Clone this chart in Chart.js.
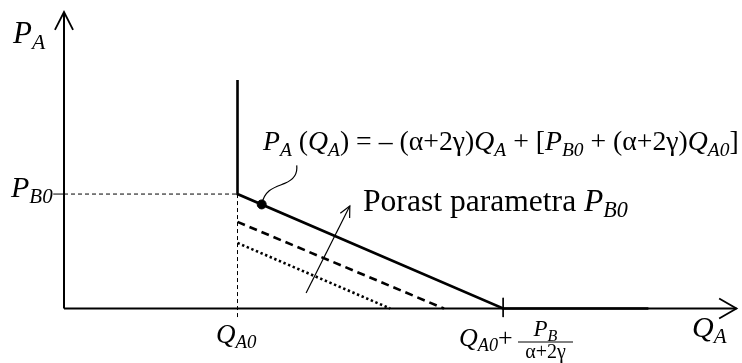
<!DOCTYPE html>
<html lang="sr">
<head>
    <meta charset="UTF-8">
    <title>Porast parametra PB0</title>
    <script src="https://cdn.jsdelivr.net/npm/chart.js"></script>
    <style>
        body {
            margin: 0;
            background: white;
        }
        canvas {
            display: block;
        }
    </style>
</head>
<body>
    <canvas id="chart" width="742" height="363"></canvas>

    <script>
        // Vrednosti (apstraktne jedinice, osa od 0 do 10)
        const xRange = [0, 10];
        const yRange = [0, 10];
        const qA0 = 2.58;
        const pB0 = 3.86;

        const axisXx = [0, 10];
        const axisXy = [0, 0];
        const axisYx = [0, 0];
        const axisYy = [0, 10];

        const demandX = [qA0, qA0, 6.53, 8.69];
        const demandY = [7.71, pB0, 0, 0];
        const dashedX = [qA0, 5.65];
        const dashedY = [2.92, 0];
        const dottedX = [qA0, 4.85];
        const dottedY = [2.21, 0];

        const guideHX = [0, qA0];
        const guideHY = [pB0, pB0];
        const guideVX = [qA0, qA0];
        const guideVY = [pB0, -0.29];
        const tickPX = [-0.16, 0];
        const tickPY = [pB0, pB0];
        const tickQX = [6.53, 6.53];
        const tickQY = [0.36, -0.29];

        const pointX = [2.94];
        const pointY = [3.51];
        const shiftX = [3.60, 4.25];
        const shiftY = [0.52, 3.46];

        const pts = (xs, ys) => xs.map((x, i) => ({ x: x, y: ys[i] }));

        function line(xs, ys, width, dash) {
            return {
                data: pts(xs, ys),
                showLine: true,
                borderColor: '#000',
                borderWidth: width,
                borderDash: dash || [],
                pointRadius: 0,
                clip: false,
            };
        }

        const SERIF = '"Liberation Serif", "DejaVu Serif", serif';

        // Tekst sa indeksima: [tekst, italik, indeks]
        function richWidth(ctx, parts, size) {
            let w = 0;
            parts.forEach(p => {
                const s = p[2] ? size * 0.7 : size;
                ctx.font = (p[1] ? 'italic ' : '') + s + 'px ' + SERIF;
                w += ctx.measureText(p[0]).width;
            });
            return w;
        }

        function drawRich(ctx, x, y, parts, size) {
            parts.forEach(p => {
                const s = p[2] ? size * 0.7 : size;
                ctx.font = (p[1] ? 'italic ' : '') + s + 'px ' + SERIF;
                ctx.fillText(p[0], x, p[2] ? y + size * 0.2 : y);
                x += ctx.measureText(p[0]).width;
            });
            return x;
        }

        function fitRich(ctx, x, y, parts, width) {
            const size = 20 * width / richWidth(ctx, parts, 20);
            drawRich(ctx, x, y, parts, size);
        }

        function arrowHead(ctx, x0, y0, x1, y1, len, spread) {
            const a = Math.atan2(y1 - y0, x1 - x0);
            ctx.beginPath();
            ctx.moveTo(x1 - len * Math.cos(a - spread), y1 - len * Math.sin(a - spread));
            ctx.lineTo(x1, y1);
            ctx.lineTo(x1 - len * Math.cos(a + spread), y1 - len * Math.sin(a + spread));
            ctx.stroke();
        }

        const labelsPlugin = {
            id: 'labels',
            afterDraw(chart) {
                const { ctx, scales: { x, y } } = chart;
                const px = v => x.getPixelForValue(v);
                const py = v => y.getPixelForValue(v);
                ctx.save();
                ctx.strokeStyle = '#000';
                ctx.fillStyle = '#000';
                ctx.lineCap = 'butt';

                // strelice na osama
                ctx.lineWidth = 1.8;
                arrowHead(ctx, px(0), py(0), px(0), py(yRange[1]), 20, 0.47);
                arrowHead(ctx, px(0), py(0), px(xRange[1]), py(0), 20, 0.52);

                // strelica porasta
                ctx.lineWidth = 1.2;
                arrowHead(ctx, px(shiftX[0]), py(shiftY[0]), px(shiftX[1]), py(shiftY[1]), 12, 0.45);

                // vijugava veza od formule do tacke
                const dx = px(pointX[0]), dy = py(pointY[0]);
                ctx.lineWidth = 1.2;
                ctx.beginPath();
                ctx.moveTo(dx, dy);
                ctx.bezierCurveTo(dx + 3, dy - 15, dx + 13, dy - 17, dx + 23, dy - 21);
                ctx.bezierCurveTo(dx + 33, dy - 25, dx + 36, dy - 31, dx + 35, dy - 39);
                ctx.stroke();

                ctx.textBaseline = 'alphabetic';
                // oznake osa
                drawRich(ctx, 13, 43, [['P', true], ['A', true, true]], 31);
                drawRich(ctx, 11, 197, [['P', true], ['B0', true, true]], 30);
                drawRich(ctx, 216, 343, [['Q', true], ['A0', true, true]], 27);
                drawRich(ctx, 692, 337, [['Q', true], ['A', true, true]], 30);

                // Q_A0 + P_B / (α+2γ)
                drawRich(ctx, 459, 346, [['Q', true], ['A0', true, true], ['+', false]], 26);
                const fl = 518, fr = 573, fy = 342;
                ctx.lineWidth = 1;
                ctx.beginPath();
                ctx.moveTo(fl, fy);
                ctx.lineTo(fr, fy);
                ctx.stroke();
                const num = [['P', true], ['B', true, true]];
                const nw = richWidth(ctx, num, 23);
                drawRich(ctx, (fl + fr - nw) / 2, 336, num, 23);
                const den = [['α+2γ', false]];
                const dw = richWidth(ctx, den, 20);
                drawRich(ctx, (fl + fr - dw) / 2, 358, den, 20);

                // formula
                fitRich(ctx, 263, 150, [
                    ['P', true], ['A', true, true], [' (', false], ['Q', true], ['A', true, true],
                    [') = \u2013 (α+2γ)', false], ['Q', true], ['A', true, true],
                    [' + [', false], ['P', true], ['B0', true, true], [' + (α+2γ)', false],
                    ['Q', true], ['A0', true, true], [']', false]
                ], 476);

                // porast parametra
                fitRich(ctx, 363, 211, [['Porast parametra ', false], ['P', true], ['B0', true, true]], 265);
                ctx.restore();
            }
        };

        new Chart(document.getElementById('chart'), {
            type: 'scatter',
            data: {
                datasets: [
                    line(axisXx, axisXy, 2),
                    line(axisYx, axisYy, 2),
                    line(guideHX, guideHY, 1, [4, 3]),
                    line(guideVX, guideVY, 1, [4, 3]),
                    line(tickPX, tickPY, 1),
                    line(tickQX, tickQY, 1),
                    line(dottedX, dottedY, 2.6, [2.4, 2.6]),
                    line(dashedX, dashedY, 2.6, [8, 5]),
                    line(demandX, demandY, 2.6),
                    line(shiftX, shiftY, 1.2),
                    {
                        data: pts(pointX, pointY),
                        pointRadius: 4.5,
                        pointBackgroundColor: '#000',
                        pointBorderColor: '#000',
                        clip: false,
                    },
                ],
            },
            options: {
                responsive: false,
                animation: false,
                devicePixelRatio: 1,
                layout: {
                    padding: { left: 64, right: 0, top: 12, bottom: 54.5 },
                },
                plugins: {
                    legend: { display: false },
                    tooltip: { enabled: false },
                },
                scales: {
                    x: { type: 'linear', min: xRange[0], max: xRange[1], display: false },
                    y: { type: 'linear', min: yRange[0], max: yRange[1], display: false },
                },
            },
            plugins: [labelsPlugin],
        });
    </script>
</body>
</html>
